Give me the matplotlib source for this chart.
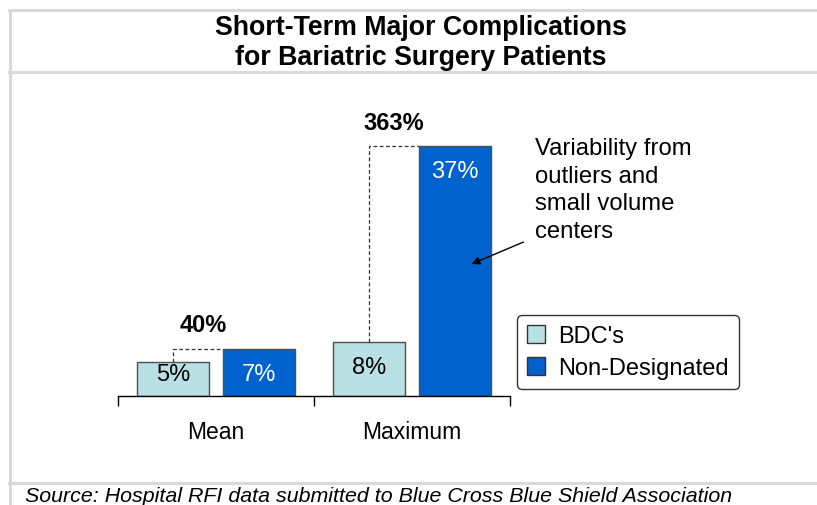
import matplotlib
matplotlib.use("Agg")
import matplotlib.pyplot as plt
from matplotlib.lines import Line2D
from matplotlib.patches import Patch

plt.rcParams['font.family'] = ['Liberation Sans', 'DejaVu Sans']

categories = ["Mean", "Maximum"]
bdc = [5, 8]
nondes = [7, 37]
pct_diff = ["40%", "363%"]
series_names = ["BDC's", "Non-Designated"]
title = "Short-Term Major Complications\nfor Bariatric Surgery Patients"
note = "Variability from\noutliers and\nsmall volume\ncenters"
source = "Source: Hospital RFI data submitted to Blue Cross Blue Shield Association"

c_light = "#B9E0E4"
c_dark = "#0062CC"

W, H = 817, 506
fig = plt.figure(figsize=(W / 100, H / 100), dpi=100)

def fx(px):
    return px / W

def fy(py):
    return 1 - py / H

# frame lines
grey = "#D9D9D9"
for y in (11, 73, 484):
    fig.add_artist(Line2D([fx(9), 1], [fy(y), fy(y)], color=grey, lw=2.2))
fig.add_artist(Line2D([fx(9.5), fx(9.5)], [fy(11), 0], color=grey, lw=2.2))

fig.text(fx(421), fy(43), title, ha="center", va="center", fontsize=19.3,
         fontweight="bold", linespacing=1.22)

ax = fig.add_axes([fx(118), fy(397), fx(510) - fx(118), fy(90) - fy(397)])
ax.set_xlim(-0.5, 1.5)
ax.set_ylim(0, 45.5)
off = 0.22
bw = 0.37
x = list(range(len(categories)))
ax.bar([i - off for i in x], bdc, bw, color=c_light, edgecolor="#505050", lw=1)
ax.bar([i + off for i in x], nondes, bw, color=c_dark, edgecolor="#505050", lw=1)

for i in x:
    ax.text(i - off, max(bdc[i] - 3.7, 3.2), f"{bdc[i]}%", ha="center", va="center",
            fontsize=17, color="black")
    ax.text(i + off, max(nondes[i] - 3.7, 3.2), f"{nondes[i]}%", ha="center", va="center",
            fontsize=17, color="white")
    # dashed connector
    ax.plot([i - off, i - off, i + off - bw / 2], [bdc[i], nondes[i], nondes[i]],
            ls=(0, (3, 2)), color="#333333", lw=0.9)

fig.text(fx(203), fy(326), pct_diff[0], ha="center", va="center", fontsize=17, fontweight="bold")
fig.text(fx(394), fy(124), pct_diff[1], ha="center", va="center", fontsize=17, fontweight="bold")

for s in ("top", "right", "left"):
    ax.spines[s].set_visible(False)
ax.spines["bottom"].set_linewidth(1)
ax.set_yticks([])
ax.set_xticks([-0.5, 0.5, 1.5])
ax.set_xticklabels([])
ax.tick_params(axis="x", length=7, width=1, direction="out")
for i, c in enumerate(categories):
    ax.text(i, -5.2, c, ha="center", va="center", fontsize=16.5)

ax.annotate("", xy=(fx(469), fy(266)), xycoords="figure fraction",
            xytext=(fx(526), fy(242)), textcoords="figure fraction",
            arrowprops=dict(arrowstyle="-|>", color="black", lw=1, mutation_scale=12))
fig.text(fx(535), fy(190.5), note, ha="left", va="center", fontsize=17.2, linespacing=1.34)

handles = [Patch(facecolor=c_light, edgecolor="#333333"), Patch(facecolor=c_dark, edgecolor="#333333")]
leg = fig.legend(handles, series_names, loc="upper left",
                 bbox_to_anchor=(fx(517), fy(316)), fontsize=17, frameon=True,
                 fancybox=True, edgecolor="black", handlelength=0.78, handleheight=0.78,
                 handletextpad=0.55, borderpad=0.42, labelspacing=0.42, borderaxespad=0)
leg.get_frame().set_linewidth(1)

fig.text(fx(25), fy(497), source, ha="left", va="center", fontsize=15.4, style="italic")

fig.savefig("out.png", dpi=100)
